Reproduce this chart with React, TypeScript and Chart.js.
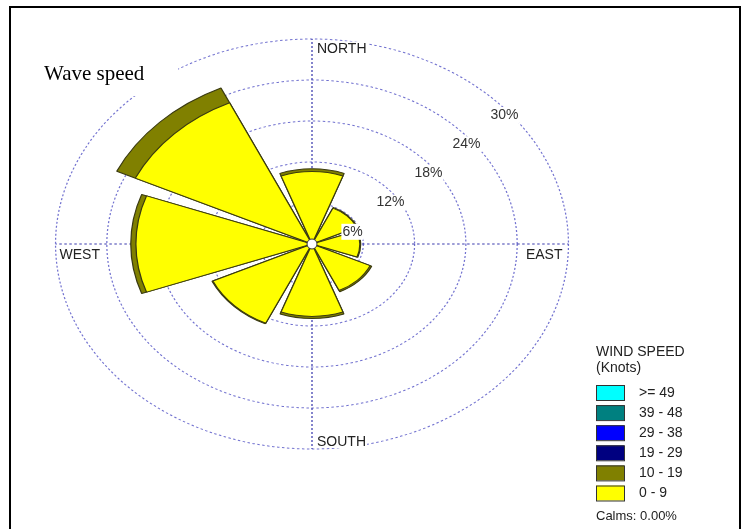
import React, { useEffect, useRef } from 'react';
import { Chart, registerables } from 'chart.js';

Chart.register(...registerables);

// ---- data ----
const DIRECTIONS = ['N', 'NE', 'E', 'SE', 'S', 'SW', 'W', 'NW'];
const SPEED_0_9 = [10.6, 5.8, 5.6, 7.5, 10.6, 12.8, 20.6, 22.8];
const SPEED_10_19 = [0.4, 0.1, 0.1, 0.2, 0.3, 0.1, 0.6, 2.4];
const RING_MAX = 30;
const RING_STEP = 6;
const COMPASS = ['NORTH', 'EAST', 'SOUTH', 'WEST'];
const LEGEND_TITLE = ['WIND SPEED', '(Knots)'];
const LEGEND_LABELS = ['>= 49', '39 - 48', '29 - 38', '19 - 29', '10 - 19', '0 - 9'];
const LEGEND_COLORS = ['#00FFFF', '#008080', '#0000FF', '#000080', '#808000', '#FFFF00'];
const CALMS = 'Calms: 0.00%';
const TITLE = 'Wave speed';

// ---- geometry / style ----
const WEDGE_DEG = 40;
const GAP_DEG = 5;
const SX = 1.251; // horizontal stretch of the rose (elliptical rings)
const RING_COLOR = '#7373d0';
const AXIS_COLOR = '#3b3bae';
const WEDGE_BORDER = '#3a3a10';
const SANS = '"Liberation Sans", Arial, sans-serif';
const SERIF = '"Liberation Serif", "Times New Roman", serif';

const labels16 = DIRECTIONS.flatMap((d) => [d, '']);
const innerData = SPEED_0_9.flatMap((v) => [v, 0]);
const outerData = SPEED_0_9.flatMap((v, i) => [v + SPEED_10_19[i], 0]);

const isWedge = (c: any) => c.dataIndex % 2 === 0;

const stretchPlugin = {
  id: 'stretch',
  beforeDraw(chart: any) {
    const s = chart.scales.r;
    const ctx = chart.ctx;
    ctx.save();
    ctx.translate(s.xCenter, 0);
    ctx.scale(SX, 1);
    ctx.translate(-s.xCenter, 0);
  },
  afterDatasetsDraw(chart: any) {
    chart.ctx.restore();
  },
};

const decorPlugin = {
  id: 'decor',
  afterDraw(chart: any) {
    const ctx = chart.ctx as CanvasRenderingContext2D;
    const s = chart.scales.r;
    const cx = s.xCenter;
    const cy = s.yCenter;
    const R = s.drawingArea;
    const RX = R * SX;
    ctx.save();

    // center hole
    ctx.beginPath();
    ctx.arc(cx, cy, 5, 0, Math.PI * 2);
    ctx.fillStyle = '#fff';
    ctx.fill();
    ctx.lineWidth = 1;
    ctx.strokeStyle = '#333';
    ctx.stroke();

    // ring labels
    ctx.font = `14px ${SANS}`;
    ctx.textAlign = 'center';
    ctx.textBaseline = 'middle';
    s.ticks.forEach((t: any) => {
      if (t.value <= 0) return;
      const r = s.getDistanceFromCenterForValue(t.value);
      const x = cx + SX * (r * 0.741 + 2);
      const y = cy - r * 0.712 + 17;
      const txt = `${t.value}%`;
      const w = ctx.measureText(txt).width;
      ctx.fillStyle = '#fff';
      ctx.fillRect(x - w / 2 - 1, y - 8, w + 2, 16);
      ctx.fillStyle = '#333';
      ctx.fillText(txt, x, y);
    });

    // compass labels
    ctx.textBaseline = 'alphabetic';
    const drawLbl = (txt: string, x: number, y: number, align: CanvasTextAlign) => {
      ctx.textAlign = align;
      const w = ctx.measureText(txt).width;
      const left = align === 'left' ? x : x - w;
      ctx.fillStyle = '#fff';
      ctx.fillRect(left - 1, y - 11, w + 2, 13);
      ctx.fillStyle = '#222';
      ctx.fillText(txt, x, y);
    };
    drawLbl(COMPASS[0], cx + 5, cy - R + 13.5, 'left');
    drawLbl(COMPASS[1], cx + RX - 6, cy + 15, 'right');
    drawLbl(COMPASS[2], cx + 5, cy + R - 3, 'left');
    drawLbl(COMPASS[3], cx - RX + 4, cy + 15, 'left');

    // title
    ctx.fillStyle = '#fff';
    ctx.fillRect(40, 55, 138, 41);
    ctx.font = `21px ${SERIF}`;
    ctx.textAlign = 'left';
    ctx.fillStyle = '#000';
    ctx.fillText(TITLE, 44, 80);

    // legend
    const lx = 596;
    ctx.font = `14px ${SANS}`;
    ctx.fillStyle = '#222';
    ctx.fillText(LEGEND_TITLE[0], lx, 356);
    ctx.fillText(LEGEND_TITLE[1], lx, 372);
    ctx.textBaseline = 'middle';
    LEGEND_LABELS.forEach((lab, i) => {
      const top = 385 + i * 20.1;
      ctx.fillStyle = LEGEND_COLORS[i];
      ctx.fillRect(lx, top, 28, 15);
      ctx.strokeStyle = '#333';
      ctx.lineWidth = 1;
      ctx.strokeRect(lx + 0.5, top + 0.5, 28, 15);
      ctx.fillStyle = '#222';
      ctx.fillText(lab, 639, top + 8);
    });
    ctx.textBaseline = 'alphabetic';
    ctx.font = `13px ${SANS}`;
    ctx.fillText(CALMS, lx, 519.5);

    // frame
    ctx.strokeStyle = '#000';
    ctx.lineWidth = 2;
    ctx.beginPath();
    ctx.moveTo(10, 529);
    ctx.lineTo(10, 7);
    ctx.lineTo(740, 7);
    ctx.lineTo(740, 529);
    ctx.stroke();
    ctx.restore();
  },
};

export default function App() {
  const ref = useRef<HTMLCanvasElement>(null);
  useEffect(() => {
    document.documentElement.style.overflow = 'hidden';
    document.body.style.overflow = 'hidden';
    const chart = new Chart(ref.current as HTMLCanvasElement, {
      type: 'polarArea',
      data: {
        labels: labels16,
        datasets: [
          {
            label: '0 - 9',
            data: innerData,
            rAxisID: 'r',
            backgroundColor: (c: any) => (isWedge(c) ? LEGEND_COLORS[5] : 'rgba(0,0,0,0)'),
            borderColor: WEDGE_BORDER,
            borderWidth: (c: any) => (isWedge(c) ? 1 : 0),
            angle: (c: any) => (isWedge(c) ? WEDGE_DEG : GAP_DEG),
            clip: false,
          } as any,
          {
            label: '10 - 19',
            data: outerData,
            rAxisID: 'r',
            backgroundColor: (c: any) => (isWedge(c) ? LEGEND_COLORS[4] : 'rgba(0,0,0,0)'),
            borderColor: WEDGE_BORDER,
            borderWidth: (c: any) => (isWedge(c) ? 1 : 0),
            angle: (c: any) => (isWedge(c) ? WEDGE_DEG : GAP_DEG),
            clip: false,
          } as any,
        ],
      },
      options: {
        animation: false,
        responsive: false,
        devicePixelRatio: 1,
        events: [],
        layout: { padding: { left: 107, right: 228, top: 39, bottom: 80 } },
        plugins: { legend: { display: false }, tooltip: { enabled: false }, title: { display: false } },
        scales: {
          r: {
            type: 'radialLinear',
            axis: 'r',
            min: 0,
            max: RING_MAX,
            startAngle: -WEDGE_DEG / 2,
            ticks: { display: false, stepSize: RING_STEP },
            pointLabels: { display: false },
            angleLines: { display: false },
            grid: { display: true, circular: true, color: RING_COLOR, lineWidth: 1 },
            border: { dash: [2, 2] },
          },
          rAxes: {
            type: 'radialLinear',
            axis: 'r',
            min: 0,
            max: RING_MAX,
            startAngle: 0,
            ticks: { display: false },
            pointLabels: { display: false },
            grid: { display: false },
            angleLines: {
              display: true,
              color: AXIS_COLOR,
              lineWidth: (c: any) => (c.index % 4 === 0 ? 1 : 0),
              borderDash: [2, 2],
            },
          },
        } as any,
      },
      plugins: [stretchPlugin, decorPlugin],
    });
    return () => chart.destroy();
  }, []);
  return (
    <div style={{ position: 'fixed', left: 0, top: 0, width: 745, height: 529, background: '#fff' }}>
      <canvas ref={ref} width={745} height={529} style={{ display: 'block', width: 745, height: 529 }} />
    </div>
  );
}
